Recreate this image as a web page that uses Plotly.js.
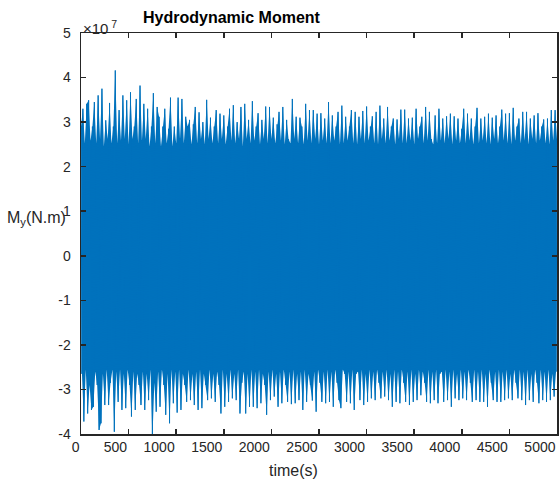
<!DOCTYPE html>
<html>
<head>
<meta charset="utf-8">
<script src="https://cdn.plot.ly/plotly-3.0.1.min.js"></script>
<style>html,body{margin:0;padding:0;background:#fff;}#chart{width:560px;height:483px;}</style>
</head>
<body>
<div id="chart"></div>
<script>
// Hydrodynamic moment My (units of 1e7 N.m), read from the picture as alternating
// upper peaks (t = 0, 20, 40, ... s) and lower peaks (t = 10, 30, 50, ... s)
var upperPeaks = [
  2.9,3.30,2.52,3.41,3.49,2.58,2.9,3.45,2.52,3.6,
  2.62,3.75,2.45,3.04,2.62,3.43,2.52,2.9,4.16,2.52,
  3.27,2.58,3.6,2.62,3.49,2.5,3.67,2.62,2.9,3.52,
  2.52,3.82,2.58,3.41,2.62,3.30,2.45,2.9,3.65,2.52,
  3.34,3.12,2.45,2.9,3.30,2.52,2.85,3.55,2.45,2.9,
  2.52,3.55,2.62,3.52,2.52,3.12,2.9,3.05,2.5,2.95,
  3.34,2.52,3.22,2.62,3.0,2.5,3.5,2.62,3.1,2.52,
  2.9,3.27,2.52,3.19,2.62,3.15,2.5,2.9,3.30,2.58,
  3.38,2.52,3.0,2.62,3.34,2.45,3.41,2.62,3.05,2.52,
  3.47,2.58,2.9,3.20,2.5,3.05,2.62,3.35,2.52,3.34,
  2.62,3.1,2.52,2.95,3.23,2.58,3.34,2.5,3.05,2.62,
  2.52,3.52,2.62,3.12,2.52,3.10,2.9,2.5,3.41,2.58,
  3.27,2.52,3.27,2.62,3.19,2.5,3.20,2.58,3.08,2.52,
  3.45,2.52,3.15,2.58,2.9,3.23,2.5,3.37,2.52,3.12,
  2.58,2.9,3.27,2.52,3.23,2.5,3.12,2.62,3.25,2.52,
  3.35,2.58,2.9,3.13,2.52,3.23,2.5,3.37,2.62,3.08,
  2.52,3.34,2.58,2.9,3.08,2.5,3.06,2.62,3.28,2.52,
  3.28,2.52,3.08,2.58,3.10,2.5,3.30,2.62,2.9,3.12,
  2.52,3.34,2.58,3.23,2.62,2.5,3.15,2.52,3.30,2.58,
  3.08,2.52,3.13,2.62,3.19,2.5,3.13,2.58,3.08,2.52,
  2.85,3.30,2.52,3.19,2.58,3.08,2.5,2.9,3.32,2.52,
  3.08,2.58,3.12,2.52,3.19,2.5,3.10,2.62,3.15,2.52,
  2.9,3.28,2.58,3.19,2.52,3.20,2.5,3.32,2.58,2.9,
  3.08,2.52,3.23,2.58,3.23,2.5,3.08,2.62,3.15,2.52,
  3.20,2.58,2.9,3.06,2.52,3.08,2.5,3.27,2.58,3.27,
  2.62
];
var lowerPeaks = [
  -2.65,-3.72,-2.55,-3.54,-2.9,-3.46,-3.39,-2.6,-2.9,-3.91,
  -3.76,-2.65,-3.35,-2.55,-3.35,-2.85,-2.55,-3.95,-2.6,-3.28,
  -2.55,-3.46,-2.65,-3.42,-2.55,-2.9,-3.61,-2.6,-3.46,-2.65,
  -2.9,-3.35,-2.6,-3.46,-2.65,-3.24,-2.55,-4.15,-2.85,-3.50,
  -2.6,-3.39,-2.55,-2.9,-3.57,-2.65,-3.76,-2.55,-3.31,-2.6,
  -3.52,-2.55,-3.46,-2.65,-2.9,-3.28,-2.55,-3.24,-2.65,-3.35,
  -2.6,-3.46,-2.55,-3.42,-2.65,-2.9,-3.24,-2.55,-3.20,-2.65,
  -3.28,-2.6,-2.9,-3.54,-2.55,-3.39,-2.65,-3.28,-2.55,-3.20,
  -2.65,-3.24,-2.55,-3.54,-2.85,-2.6,-3.54,-2.65,-3.39,-2.55,
  -3.39,-2.6,-3.42,-2.55,-3.31,-2.65,-2.9,-3.57,-2.6,-3.24,
  -2.55,-3.16,-2.65,-3.39,-2.6,-3.31,-2.55,-2.9,-3.28,-2.6,
  -3.33,-2.55,-3.31,-2.65,-3.24,-2.6,-3.46,-2.55,-3.28,-2.65,
  -2.9,-3.25,-2.6,-3.50,-2.55,-2.85,-3.28,-2.6,-3.31,-2.55,
  -3.28,-2.6,-3.39,-2.55,-2.85,-3.24,-3.42,-2.55,-2.65,-3.28,
  -2.6,-3.31,-2.55,-3.46,-2.65,-2.6,-3.24,-2.55,-3.35,-2.65,
  -3.28,-2.55,-3.20,-2.6,-3.24,-2.55,-2.85,-3.20,-2.6,-3.16,
  -2.55,-3.24,-2.65,-3.39,-2.55,-3.28,-2.6,-3.31,-2.55,-2.85,
  -3.28,-2.6,-3.35,-2.55,-3.28,-2.65,-3.24,-2.55,-3.13,-2.6,
  -2.85,-3.28,-2.55,-3.31,-2.6,-3.24,-2.55,-3.31,-2.65,-2.6,
  -3.28,-2.55,-3.24,-2.6,-3.39,-2.55,-3.20,-2.65,-3.24,-2.55,
  -3.20,-2.6,-3.24,-2.55,-2.85,-3.28,-2.55,-3.24,-2.6,-3.28,
  -2.55,-3.28,-2.65,-3.39,-2.55,-2.85,-3.24,-2.6,-3.28,-2.55,
  -3.28,-2.6,-3.24,-2.55,-3.20,-2.65,-3.24,-2.55,-2.85,-3.20,
  -2.55,-3.24,-2.6,-3.35,-2.55,-3.24,-2.65,-3.28,-2.55,-2.85,
  -3.31,-2.55,-3.24,-2.6,-3.28,-2.55,-3.24,-2.65,-3.16,-2.6
];
var sampleStep = 20;      // seconds between successive upper peaks
var xTickVals = [0,500,1000,1500,2000,2500,3000,3500,4000,4500,5000];
var yTickVals = [-4,-3,-2,-1,0,1,2,3,4,5];
var yTickText = ['-4','-3','-2','-1','0','1','2','3','4','5'];

var tUp = [], tLo = [], tx = [], my = [];
for (var i = 0; i < upperPeaks.length; i++) {
  tUp.push(i * sampleStep);
  tx.push(i * sampleStep); my.push(upperPeaks[i]);
  if (i < lowerPeaks.length) {
    tLo.push(i * sampleStep + sampleStep / 2);
    tx.push(i * sampleStep + sampleStep / 2); my.push(lowerPeaks[i]);
  }
}

var blue = '#0072BD';
var axisColor = '#262626';
var font = {family: '"Liberation Sans", Arial, Helvetica, sans-serif', size: 14, color: axisColor};

var traces = [
  {type: 'scatter', mode: 'lines', x: tLo, y: lowerPeaks, line: {width: 0, color: blue},
   hoverinfo: 'skip', showlegend: false},
  {type: 'scatter', mode: 'lines', x: tUp, y: upperPeaks, line: {width: 0, color: blue},
   fill: 'tonexty', fillcolor: blue, hoverinfo: 'skip', showlegend: false},
  {type: 'scatter', mode: 'lines', x: tx, y: my, line: {color: blue, width: 1},
   hoverinfo: 'skip', showlegend: false}
];

var layout = {
  width: 560, height: 483,
  margin: {l: 81, r: 3, t: 33, b: 49, pad: 0},
  paper_bgcolor: '#ffffff', plot_bgcolor: '#ffffff',
  font: font,
  showlegend: false,
  title: {text: 'Hydrodynamic Moment', font: {family: font.family, size: 16, color: '#000000', weight: 'bold'},
          xref: 'paper', x: 0.502, xanchor: 'right', yref: 'container', y: 0.963, yanchor: 'middle'},
  xaxis: {range: [0, 5000], tickvals: xTickVals, ticks: 'inside', ticklen: 5, tickwidth: 1.5, tickcolor: axisColor,
          showline: true, linecolor: axisColor, linewidth: 1.5, mirror: 'ticks', showgrid: false, zeroline: false,
          ticklabelposition: 'outside left', tickfont: font, fixedrange: true},
  yaxis: {range: [-4, 5], tickvals: yTickVals, ticktext: yTickText, ticks: 'inside', ticklen: 5, tickwidth: 1.5,
          tickcolor: axisColor, showline: true, linecolor: axisColor, linewidth: 1.5, mirror: 'ticks',
          showgrid: false, zeroline: false, tickfont: font, ticklabelstandoff: 6, fixedrange: true},
  annotations: [
    {text: 'time(s)', xref: 'paper', yref: 'paper', x: 0.502, y: -0.09, xanchor: 'right', yanchor: 'middle',
     showarrow: false, font: {family: font.family, size: 16, color: axisColor}},
    {text: 'M<sub>y</sub>(N.m)', xref: 'paper', yref: 'paper', x: -0.027, y: 0.538, xanchor: 'right', yanchor: 'middle',
     showarrow: false, font: {family: font.family, size: 16, color: axisColor}},
    {text: '\u00d710<sup> 7</sup>', xref: 'paper', yref: 'paper', x: 0.0, y: 0.985, xanchor: 'left', yanchor: 'bottom',
     showarrow: false, font: {family: font.family, size: 15, color: axisColor}}
  ]
};

Plotly.newPlot('chart', traces, layout, {displayModeBar: false, staticPlot: true});
</script>
</body>
</html>
